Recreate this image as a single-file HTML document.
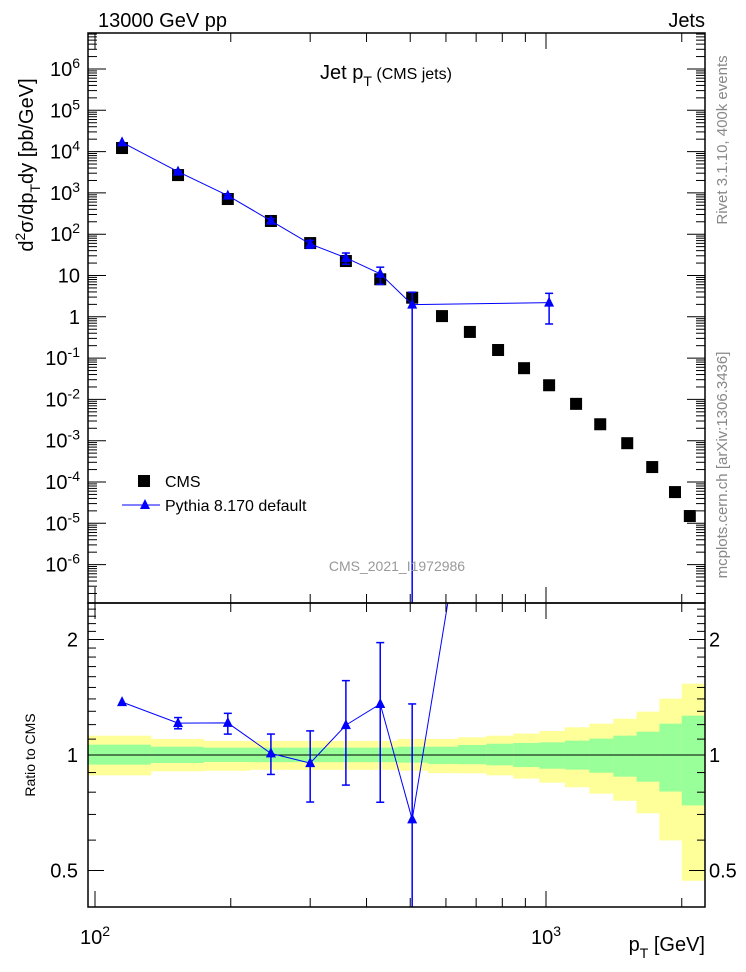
<!DOCTYPE html>
<html><head><meta charset="utf-8">
<style>
html,body{margin:0;padding:0;background:#fff;width:746px;height:972px;overflow:hidden;}
svg{display:block;font-family:"Liberation Sans",sans-serif;}
</style></head>
<body>
<svg id="chart" width="746" height="972" viewBox="0 0 746 972" xmlns="http://www.w3.org/2000/svg">
<defs>
<clipPath id="clipMain"><rect x="88" y="33" width="617" height="570"/></clipPath>
<clipPath id="clipRatio"><rect x="88" y="603" width="617" height="304"/></clipPath>
</defs>
<g id="bands" clip-path="url(#clipRatio)"></g>
<g id="series-main" clip-path="url(#clipMain)"></g>
<g id="series-ratio" clip-path="url(#clipRatio)"></g>
<g id="axes"></g>
<text x="98" y="27" font-size="20">13000 GeV pp</text>
<text x="705" y="27" font-size="20" text-anchor="end">Jets</text>
<text x="320" y="79" font-size="20">Jet p<tspan dy="7" font-size="14">T</tspan><tspan dy="-7" font-size="16"> (CMS jets)</tspan></text>
<text x="397" y="571" font-size="14" fill="#999" text-anchor="middle">CMS_2021_I1972986</text>
<text transform="translate(727,140) rotate(-90)" font-size="15" fill="#888" text-anchor="middle">Rivet 3.1.10, 400k events</text>
<text transform="translate(727,465) rotate(-90)" font-size="15" fill="#888" text-anchor="middle">mcplots.cern.ch [arXiv:1306.3436]</text>
<text transform="translate(33,165) rotate(-90)" font-size="20" text-anchor="middle">d<tspan dy="-8" font-size="14">2</tspan><tspan dy="8">σ/dp</tspan><tspan dy="7" font-size="14">T</tspan><tspan dy="-7">dy [pb/GeV]</tspan></text>
<text transform="translate(35,755) rotate(-90)" font-size="14" text-anchor="middle">Ratio to CMS</text>
<text x="705" y="951" font-size="20" text-anchor="end">p<tspan dy="7" font-size="14">T</tspan><tspan dy="-7"> [GeV]</tspan></text>
<g>
<rect x="138" y="475" width="12" height="12" fill="#000"/>
<text x="165" y="487" font-size="16">CMS</text>
<line x1="122" y1="505" x2="160" y2="505" stroke="#00f" stroke-width="1"/>
<path d="M145,499 L150,509 L140,509 Z" fill="#00f"/>
<text x="165" y="511" font-size="16">Pythia 8.170 default</text>
</g>
</svg>
<script>
const cmsPt = [114.8,152.8,197,245.5,300,360,429,505,588,678,783,894,1016,1166,1319,1514,1720,1932,2084];
const cmsVal = [1.22e4,2.7e3,711,209,61,22.4,8.1,2.9,1.04,0.43,0.157,0.057,0.022,0.0078,0.0025,8.7e-4,2.3e-4,5.7e-5,1.5e-5];
const pyPt = [114.8,152.8,197,245.5,300,360,429,505,1016];
const pyVal = [1.676e4,3.27e3,862,211,58.1,26.8,11.0,1.97,2.2];
const pyLo = [1.676e4,3.16e3,806,186,46,18.7,6.1,1e-9,0.67];
const pyHi = [1.676e4,3.38e3,913,237,70.5,35,15.9,3.94,3.7];
const pyCmsIndex = [0,1,2,3,4,5,6,7,12];
const binEdges = [84,133,174,220,272,330,395,468,548,638,737,846,967,1101,1248,1410,1588,1784,2000,2238];
const yellowHi = [1.123,1.101,1.088,1.088,1.088,1.088,1.088,1.101,1.101,1.112,1.123,1.137,1.155,1.181,1.207,1.243,1.297,1.402,1.534];
const yellowLo = [0.885,0.907,0.910,0.915,0.915,0.915,0.915,0.910,0.897,0.896,0.885,0.868,0.847,0.824,0.793,0.760,0.705,0.599,0.470];
const greenHi = [1.064,1.051,1.045,1.045,1.045,1.045,1.045,1.051,1.051,1.062,1.070,1.075,1.079,1.090,1.103,1.123,1.150,1.207,1.266];
const greenLo = [0.944,0.953,0.959,0.958,0.958,0.958,0.958,0.955,0.947,0.946,0.940,0.930,0.921,0.916,0.899,0.878,0.852,0.803,0.739];
const yTickLabels = ["10^-6","10^-5","10^-4","10^-3","10^-2","10^-1","1","10","10^2","10^3","10^4","10^5","10^6"];
const ratioTickLabels = ["0.5","1","2"];

const L=88,R=705,TM=33,BM=603,TR=603,BR=907;
const X=p=>95+451*(Math.log10(p)-2);
const Y=v=>69+41.3*(6-Math.log10(v));
const YR=r=>755-115.5*Math.log2(r);
const NS="http://www.w3.org/2000/svg";
function mk(tag,attrs,parent){const e=document.createElementNS(NS,tag);for(const k in attrs)e.setAttribute(k,attrs[k]);parent.appendChild(e);return e;}
const bands=document.getElementById('bands'),main=document.getElementById('series-main'),ratio=document.getElementById('series-ratio'),axes=document.getElementById('axes');

for(let i=0;i<binEdges.length-1;i++){
  const x1=Math.max(X(binEdges[i]),L),x2=Math.min(X(binEdges[i+1]),R);
  const y=mk('rect',{x:x1,y:YR(yellowHi[i]),width:x2-x1+0.5,height:YR(yellowLo[i])-YR(yellowHi[i]),fill:'#ffff99'},bands);
  
  
  const g=mk('rect',{x:x1,y:YR(greenHi[i]),width:x2-x1+0.5,height:YR(greenLo[i])-YR(greenHi[i]),fill:'#99ff99'},bands);
  
  
}
const one=mk('line',{x1:L,x2:R,y1:YR(1),y2:YR(1),stroke:'#000','stroke-width':1},bands);



for(const [t,b] of [[TM,BM],[TR,BR]]){
  const f=mk('rect',{x:L,y:t,width:R-L,height:b-t,fill:'none',stroke:'#000','stroke-width':1.5},axes);
  
  
}
const xt=[];
for(const d of [100,1000]) for(let m=1;m<10;m++){const p=d*m;if(X(p)>=L&&X(p)<=R)xt.push([p,m===1]);}
for(const [t,b] of [[TM,BM],[TR,BR]]) for(const [p,maj] of xt){
  const x=X(p),len=maj?16:9;
  mk('line',{x1:x,x2:x,y1:b,y2:b-len,stroke:'#000','stroke-width':1},axes);
  mk('line',{x1:x,x2:x,y1:t,y2:t+len,stroke:'#000','stroke-width':1},axes);
}
const xl=[[100,'2'],[1000,'3']];
for(const [p,e] of xl){
  const t=mk('text',{x:X(p),y:944,'font-size':20,'text-anchor':'middle'},axes);
  
  
  t.innerHTML='10<tspan dy="-8" font-size="14">'+e+'</tspan>';
}
for(let e=-7;e<=6;e++) for(let m=1;m<10;m++){
  const v=m*Math.pow(10,e),y=Y(v); if(y<TM||y>BM)continue;
  const len=m===1?18:9;
  mk('line',{x1:L,x2:L+len,y1:y,y2:y,stroke:'#000','stroke-width':1},axes);
  mk('line',{x1:R,x2:R-len,y1:y,y2:y,stroke:'#000','stroke-width':1},axes);
}
yTickLabels.forEach((lab,i)=>{
  const v=Math.pow(10,i-6),y=Y(v)+7;
  const t=mk('text',{x:80,y:y,'font-size':20,'text-anchor':'end'},axes);
  
  
  if(lab.indexOf('^')>=0){const [b,ex]=lab.split('^');t.innerHTML=b+'<tspan dy="-8" font-size="14">'+ex+'</tspan>';}
  else t.textContent=lab;
});
const rt=[0.4,0.5,0.6,0.7,0.8,0.9,1,1.1,1.2,1.3,1.4,1.5,1.6,1.7,1.8,1.9,2,2.1,2.2,2.3,2.4,2.5];
for(const r of rt){const y=YR(r);if(y<TR||y>BR)continue;const maj=(r===0.5||r===1||r===2);const len=maj?16:8;
  mk('line',{x1:L,x2:L+len,y1:y,y2:y,stroke:'#000','stroke-width':1},axes);
  mk('line',{x1:R,x2:R-len,y1:y,y2:y,stroke:'#000','stroke-width':1},axes);}
ratioTickLabels.forEach(l=>{const y=YR(parseFloat(l))+7;
  const a=mk('text',{x:78,y:y,'font-size':20,'text-anchor':'end'},axes);a.textContent=l;
  
  
  const b=mk('text',{x:709,y:y,'font-size':20},axes);b.textContent=l;
  
  
});

cmsPt.forEach((p,i)=>{
  const s=mk('rect',{x:X(p)-6,y:Y(cmsVal[i])-6,width:12,height:12,fill:'#000'},main);
  
  
});
function tri(x,y,parent){return mk('path',{d:`M${x},${y-6} L${x+5},${y+4} L${x-5},${y+4} Z`,fill:'#00f'},parent);}
function errbar(x,yHi,yLo,top,bot,parent){
  const y1=Math.max(yHi,top-2),y2=Math.min(yLo,bot+2);
  mk('line',{x1:x,x2:x,y1:y1,y2:y2,stroke:'#00f','stroke-width':1.5},parent);
  if(yHi>=top) mk('line',{x1:x-4,x2:x+4,y1:yHi,y2:yHi,stroke:'#00f','stroke-width':1.5},parent);
  if(yLo<=bot) mk('line',{x1:x-4,x2:x+4,y1:yLo,y2:yLo,stroke:'#00f','stroke-width':1.5},parent);
}
const pl=mk('polyline',{points:pyPt.map((p,i)=>X(p)+','+Y(pyVal[i])).join(' '),fill:'none',stroke:'#00f','stroke-width':1},main);


pyPt.forEach((p,i)=>{
  const x=X(p);
  if(pyHi[i]>pyLo[i]*1.02) errbar(x,Y(pyHi[i]),Y(pyLo[i]),TM,BM,main);
  const t=tri(x,Y(pyVal[i]),main);
  
  
});
const rv=pyVal.map((v,i)=>v/cmsVal[pyCmsIndex[i]]);
const rpts=[];
pyPt.forEach((p,i)=>{rpts.push([X(p),YR(rv[i])]);});
// clip the line segment exiting the top analytically to keep geometry in-bounds
const clipped=[];
for(let i=0;i<rpts.length;i++){
  const [x,y]=rpts[i];
  if(y>=TR-2){clipped.push([x,y]);}
  else if(i>0){const [x0,y0]=rpts[i-1];const f=(y0-(TR-2))/(y0-y);clipped.push([x0+f*(x-x0),TR-2]);break;}
}
const rl=mk('polyline',{points:clipped.map(q=>q[0]+','+q[1]).join(' '),fill:'none',stroke:'#00f','stroke-width':1},ratio);


pyPt.forEach((p,i)=>{
  const x=X(p),c=cmsVal[pyCmsIndex[i]],y=YR(rv[i]);
  if(y<TR||y>BR) return;
  if(pyHi[i]>pyLo[i]*1.02) errbar(x,YR(pyHi[i]/c),YR(pyLo[i]/c),TR,BR,ratio);
  const t=tri(x,y,ratio);
  
  
});
</script>
</body></html>
